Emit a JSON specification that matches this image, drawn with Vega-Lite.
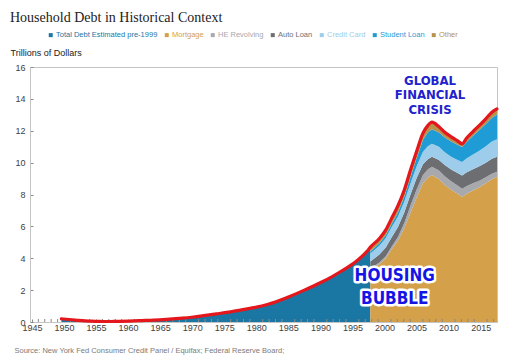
{
  "$schema": "https://vega.github.io/schema/vega-lite/v6.json",
  "width": 467,
  "height": 255,
  "autosize": {"type": "none"},
  "padding": {"left": 30, "top": 67, "right": 9, "bottom": 36},
  "background": "white",
  "config": {
    "view": {"stroke": "#c4c4c4", "strokeWidth": 1},
    "font": "Liberation Sans",
    "axis": {"labelOverlap": false, "labelFlush": false, "labelBound": false}
  },
  "title": {
    "text": "Household Debt in Historical Context",
    "anchor": "start",
    "font": "Liberation Serif",
    "fontSize": 14,
    "fontWeight": "normal",
    "color": "#222222",
    "offset": 6
  },
  "datasets": {
    "pre": [
      {"year": 1949.6, "series": "Total Debt Estimated pre-1999", "total": 0.2},
      {"year": 1951.3, "series": "Total Debt Estimated pre-1999", "total": 0.14},
      {"year": 1952.3, "series": "Total Debt Estimated pre-1999", "total": 0.1},
      {"year": 1953.3, "series": "Total Debt Estimated pre-1999", "total": 0.07},
      {"year": 1954.3, "series": "Total Debt Estimated pre-1999", "total": 0.05},
      {"year": 1955.2, "series": "Total Debt Estimated pre-1999", "total": 0.04},
      {"year": 1956.2, "series": "Total Debt Estimated pre-1999", "total": 0.03},
      {"year": 1957.2, "series": "Total Debt Estimated pre-1999", "total": 0.03},
      {"year": 1958.2, "series": "Total Debt Estimated pre-1999", "total": 0.04},
      {"year": 1960.1, "series": "Total Debt Estimated pre-1999", "total": 0.06},
      {"year": 1962.1, "series": "Total Debt Estimated pre-1999", "total": 0.09},
      {"year": 1964.0, "series": "Total Debt Estimated pre-1999", "total": 0.12},
      {"year": 1966.0, "series": "Total Debt Estimated pre-1999", "total": 0.17},
      {"year": 1967.9, "series": "Total Debt Estimated pre-1999", "total": 0.23},
      {"year": 1969.9, "series": "Total Debt Estimated pre-1999", "total": 0.3},
      {"year": 1971.8, "series": "Total Debt Estimated pre-1999", "total": 0.4},
      {"year": 1973.8, "series": "Total Debt Estimated pre-1999", "total": 0.51},
      {"year": 1975.7, "series": "Total Debt Estimated pre-1999", "total": 0.62},
      {"year": 1977.7, "series": "Total Debt Estimated pre-1999", "total": 0.76},
      {"year": 1979.6, "series": "Total Debt Estimated pre-1999", "total": 0.9},
      {"year": 1981.6, "series": "Total Debt Estimated pre-1999", "total": 1.08},
      {"year": 1983.6, "series": "Total Debt Estimated pre-1999", "total": 1.35},
      {"year": 1985.5, "series": "Total Debt Estimated pre-1999", "total": 1.65},
      {"year": 1987.5, "series": "Total Debt Estimated pre-1999", "total": 2.0},
      {"year": 1989.4, "series": "Total Debt Estimated pre-1999", "total": 2.35},
      {"year": 1991.4, "series": "Total Debt Estimated pre-1999", "total": 2.75},
      {"year": 1993.3, "series": "Total Debt Estimated pre-1999", "total": 3.2},
      {"year": 1995.3, "series": "Total Debt Estimated pre-1999", "total": 3.72},
      {"year": 1996.3, "series": "Total Debt Estimated pre-1999", "total": 4.05},
      {"year": 1997.2, "series": "Total Debt Estimated pre-1999", "total": 4.4},
      {"year": 1997.8, "series": "Total Debt Estimated pre-1999", "total": 4.7}
    ],
    "stack": [
      {"year": 1997.8, "series": "Mortgage", "o": 1, "value": 3.25},
      {"year": 1997.8, "series": "HE Revolving", "o": 2, "value": 0.1},
      {"year": 1997.8, "series": "Auto Loan", "o": 3, "value": 0.45},
      {"year": 1997.8, "series": "Credit Card", "o": 4, "value": 0.5},
      {"year": 1997.8, "series": "Student Loan", "o": 5, "value": 0.12},
      {"year": 1997.8, "series": "Other", "o": 6, "value": 0.28},
      {"year": 1999.2, "series": "Mortgage", "o": 1, "value": 3.62},
      {"year": 1999.2, "series": "HE Revolving", "o": 2, "value": 0.11},
      {"year": 1999.2, "series": "Auto Loan", "o": 3, "value": 0.5},
      {"year": 1999.2, "series": "Credit Card", "o": 4, "value": 0.56},
      {"year": 1999.2, "series": "Student Loan", "o": 5, "value": 0.15},
      {"year": 1999.2, "series": "Other", "o": 6, "value": 0.3},
      {"year": 2000.2, "series": "Mortgage", "o": 1, "value": 4.0},
      {"year": 2000.2, "series": "HE Revolving", "o": 2, "value": 0.13},
      {"year": 2000.2, "series": "Auto Loan", "o": 3, "value": 0.54},
      {"year": 2000.2, "series": "Credit Card", "o": 4, "value": 0.6},
      {"year": 2000.2, "series": "Student Loan", "o": 5, "value": 0.18},
      {"year": 2000.2, "series": "Other", "o": 6, "value": 0.33},
      {"year": 2001.1, "series": "Mortgage", "o": 1, "value": 4.55},
      {"year": 2001.1, "series": "HE Revolving", "o": 2, "value": 0.17},
      {"year": 2001.1, "series": "Auto Loan", "o": 3, "value": 0.58},
      {"year": 2001.1, "series": "Credit Card", "o": 4, "value": 0.64},
      {"year": 2001.1, "series": "Student Loan", "o": 5, "value": 0.21},
      {"year": 2001.1, "series": "Other", "o": 6, "value": 0.35},
      {"year": 2002.1, "series": "Mortgage", "o": 1, "value": 5.1},
      {"year": 2002.1, "series": "HE Revolving", "o": 2, "value": 0.24},
      {"year": 2002.1, "series": "Auto Loan", "o": 3, "value": 0.62},
      {"year": 2002.1, "series": "Credit Card", "o": 4, "value": 0.66},
      {"year": 2002.1, "series": "Student Loan", "o": 5, "value": 0.25},
      {"year": 2002.1, "series": "Other", "o": 6, "value": 0.43},
      {"year": 2003.1, "series": "Mortgage", "o": 1, "value": 5.9},
      {"year": 2003.1, "series": "HE Revolving", "o": 2, "value": 0.33},
      {"year": 2003.1, "series": "Auto Loan", "o": 3, "value": 0.66},
      {"year": 2003.1, "series": "Credit Card", "o": 4, "value": 0.68},
      {"year": 2003.1, "series": "Student Loan", "o": 5, "value": 0.3},
      {"year": 2003.1, "series": "Other", "o": 6, "value": 0.43},
      {"year": 2004.1, "series": "Mortgage", "o": 1, "value": 6.9},
      {"year": 2004.1, "series": "HE Revolving", "o": 2, "value": 0.45},
      {"year": 2004.1, "series": "Auto Loan", "o": 3, "value": 0.7},
      {"year": 2004.1, "series": "Credit Card", "o": 4, "value": 0.7},
      {"year": 2004.1, "series": "Student Loan", "o": 5, "value": 0.4},
      {"year": 2004.1, "series": "Other", "o": 6, "value": 0.45},
      {"year": 2005.0, "series": "Mortgage", "o": 1, "value": 7.8},
      {"year": 2005.0, "series": "HE Revolving", "o": 2, "value": 0.5},
      {"year": 2005.0, "series": "Auto Loan", "o": 3, "value": 0.72},
      {"year": 2005.0, "series": "Credit Card", "o": 4, "value": 0.74},
      {"year": 2005.0, "series": "Student Loan", "o": 5, "value": 0.52},
      {"year": 2005.0, "series": "Other", "o": 6, "value": 0.42},
      {"year": 2006.0, "series": "Mortgage", "o": 1, "value": 8.7},
      {"year": 2006.0, "series": "HE Revolving", "o": 2, "value": 0.52},
      {"year": 2006.0, "series": "Auto Loan", "o": 3, "value": 0.68},
      {"year": 2006.0, "series": "Credit Card", "o": 4, "value": 0.78},
      {"year": 2006.0, "series": "Student Loan", "o": 5, "value": 0.75},
      {"year": 2006.0, "series": "Other", "o": 6, "value": 0.42},
      {"year": 2006.75, "series": "Mortgage", "o": 1, "value": 9.05},
      {"year": 2006.75, "series": "HE Revolving", "o": 2, "value": 0.52},
      {"year": 2006.75, "series": "Auto Loan", "o": 3, "value": 0.64},
      {"year": 2006.75, "series": "Credit Card", "o": 4, "value": 0.82},
      {"year": 2006.75, "series": "Student Loan", "o": 5, "value": 0.86},
      {"year": 2006.75, "series": "Other", "o": 6, "value": 0.43},
      {"year": 2007.4, "series": "Mortgage", "o": 1, "value": 9.22},
      {"year": 2007.4, "series": "HE Revolving", "o": 2, "value": 0.52},
      {"year": 2007.4, "series": "Auto Loan", "o": 3, "value": 0.63},
      {"year": 2007.4, "series": "Credit Card", "o": 4, "value": 0.82},
      {"year": 2007.4, "series": "Student Loan", "o": 5, "value": 0.9},
      {"year": 2007.4, "series": "Other", "o": 6, "value": 0.45},
      {"year": 2008.5, "series": "Mortgage", "o": 1, "value": 8.95},
      {"year": 2008.5, "series": "HE Revolving", "o": 2, "value": 0.56},
      {"year": 2008.5, "series": "Auto Loan", "o": 3, "value": 0.66},
      {"year": 2008.5, "series": "Credit Card", "o": 4, "value": 0.82},
      {"year": 2008.5, "series": "Student Loan", "o": 5, "value": 0.9},
      {"year": 2008.5, "series": "Other", "o": 6, "value": 0.36},
      {"year": 2009.4, "series": "Mortgage", "o": 1, "value": 8.6},
      {"year": 2009.4, "series": "HE Revolving", "o": 2, "value": 0.55},
      {"year": 2009.4, "series": "Auto Loan", "o": 3, "value": 0.7},
      {"year": 2009.4, "series": "Credit Card", "o": 4, "value": 0.8},
      {"year": 2009.4, "series": "Student Loan", "o": 5, "value": 0.92},
      {"year": 2009.4, "series": "Other", "o": 6, "value": 0.33},
      {"year": 2010.4, "series": "Mortgage", "o": 1, "value": 8.3},
      {"year": 2010.4, "series": "HE Revolving", "o": 2, "value": 0.53},
      {"year": 2010.4, "series": "Auto Loan", "o": 3, "value": 0.74},
      {"year": 2010.4, "series": "Credit Card", "o": 4, "value": 0.8},
      {"year": 2010.4, "series": "Student Loan", "o": 5, "value": 0.95},
      {"year": 2010.4, "series": "Other", "o": 6, "value": 0.3},
      {"year": 2011.4, "series": "Mortgage", "o": 1, "value": 8.05},
      {"year": 2011.4, "series": "HE Revolving", "o": 2, "value": 0.51},
      {"year": 2011.4, "series": "Auto Loan", "o": 3, "value": 0.79},
      {"year": 2011.4, "series": "Credit Card", "o": 4, "value": 0.82},
      {"year": 2011.4, "series": "Student Loan", "o": 5, "value": 0.95},
      {"year": 2011.4, "series": "Other", "o": 6, "value": 0.25},
      {"year": 2012.1, "series": "Mortgage", "o": 1, "value": 7.86},
      {"year": 2012.1, "series": "HE Revolving", "o": 2, "value": 0.5},
      {"year": 2012.1, "series": "Auto Loan", "o": 3, "value": 0.84},
      {"year": 2012.1, "series": "Credit Card", "o": 4, "value": 0.84},
      {"year": 2012.1, "series": "Student Loan", "o": 5, "value": 0.94},
      {"year": 2012.1, "series": "Other", "o": 6, "value": 0.2},
      {"year": 2012.85, "series": "Mortgage", "o": 1, "value": 8.05},
      {"year": 2012.85, "series": "HE Revolving", "o": 2, "value": 0.48},
      {"year": 2012.85, "series": "Auto Loan", "o": 3, "value": 0.86},
      {"year": 2012.85, "series": "Credit Card", "o": 4, "value": 0.88},
      {"year": 2012.85, "series": "Student Loan", "o": 5, "value": 1.04},
      {"year": 2012.85, "series": "Other", "o": 6, "value": 0.25},
      {"year": 2013.8, "series": "Mortgage", "o": 1, "value": 8.25},
      {"year": 2013.8, "series": "HE Revolving", "o": 2, "value": 0.45},
      {"year": 2013.8, "series": "Auto Loan", "o": 3, "value": 0.88},
      {"year": 2013.8, "series": "Credit Card", "o": 4, "value": 0.93},
      {"year": 2013.8, "series": "Student Loan", "o": 5, "value": 1.17},
      {"year": 2013.8, "series": "Other", "o": 6, "value": 0.27},
      {"year": 2014.8, "series": "Mortgage", "o": 1, "value": 8.45},
      {"year": 2014.8, "series": "HE Revolving", "o": 2, "value": 0.42},
      {"year": 2014.8, "series": "Auto Loan", "o": 3, "value": 0.9},
      {"year": 2014.8, "series": "Credit Card", "o": 4, "value": 0.98},
      {"year": 2014.8, "series": "Student Loan", "o": 5, "value": 1.29},
      {"year": 2014.8, "series": "Other", "o": 6, "value": 0.3},
      {"year": 2015.8, "series": "Mortgage", "o": 1, "value": 8.7},
      {"year": 2015.8, "series": "HE Revolving", "o": 2, "value": 0.38},
      {"year": 2015.8, "series": "Auto Loan", "o": 3, "value": 0.92},
      {"year": 2015.8, "series": "Credit Card", "o": 4, "value": 1.03},
      {"year": 2015.8, "series": "Student Loan", "o": 5, "value": 1.4},
      {"year": 2015.8, "series": "Other", "o": 6, "value": 0.32},
      {"year": 2016.75, "series": "Mortgage", "o": 1, "value": 8.95},
      {"year": 2016.75, "series": "HE Revolving", "o": 2, "value": 0.35},
      {"year": 2016.75, "series": "Auto Loan", "o": 3, "value": 0.94},
      {"year": 2016.75, "series": "Credit Card", "o": 4, "value": 1.08},
      {"year": 2016.75, "series": "Student Loan", "o": 5, "value": 1.5},
      {"year": 2016.75, "series": "Other", "o": 6, "value": 0.34},
      {"year": 2017.55, "series": "Mortgage", "o": 1, "value": 9.1},
      {"year": 2017.55, "series": "HE Revolving", "o": 2, "value": 0.32},
      {"year": 2017.55, "series": "Auto Loan", "o": 3, "value": 0.95},
      {"year": 2017.55, "series": "Credit Card", "o": 4, "value": 1.1},
      {"year": 2017.55, "series": "Student Loan", "o": 5, "value": 1.55},
      {"year": 2017.55, "series": "Other", "o": 6, "value": 0.35}
    ],
    "line": [
      {"year": 1949.6, "total": 0.2},
      {"year": 1951.3, "total": 0.14},
      {"year": 1952.3, "total": 0.1},
      {"year": 1953.3, "total": 0.07},
      {"year": 1954.3, "total": 0.05},
      {"year": 1955.2, "total": 0.04},
      {"year": 1956.2, "total": 0.03},
      {"year": 1957.2, "total": 0.03},
      {"year": 1958.2, "total": 0.04},
      {"year": 1960.1, "total": 0.06},
      {"year": 1962.1, "total": 0.09},
      {"year": 1964.0, "total": 0.12},
      {"year": 1966.0, "total": 0.17},
      {"year": 1967.9, "total": 0.23},
      {"year": 1969.9, "total": 0.3},
      {"year": 1971.8, "total": 0.4},
      {"year": 1973.8, "total": 0.51},
      {"year": 1975.7, "total": 0.62},
      {"year": 1977.7, "total": 0.76},
      {"year": 1979.6, "total": 0.9},
      {"year": 1981.6, "total": 1.08},
      {"year": 1983.6, "total": 1.35},
      {"year": 1985.5, "total": 1.65},
      {"year": 1987.5, "total": 2.0},
      {"year": 1989.4, "total": 2.35},
      {"year": 1991.4, "total": 2.75},
      {"year": 1993.3, "total": 3.2},
      {"year": 1995.3, "total": 3.72},
      {"year": 1996.3, "total": 4.05},
      {"year": 1997.2, "total": 4.4},
      {"year": 1997.8, "total": 4.7},
      {"year": 1999.2, "total": 5.24},
      {"year": 2000.2, "total": 5.78},
      {"year": 2001.1, "total": 6.5},
      {"year": 2002.1, "total": 7.3},
      {"year": 2003.1, "total": 8.3},
      {"year": 2004.1, "total": 9.6},
      {"year": 2005.0, "total": 10.7},
      {"year": 2006.0, "total": 11.85},
      {"year": 2006.75, "total": 12.32},
      {"year": 2007.4, "total": 12.54},
      {"year": 2008.5, "total": 12.25},
      {"year": 2009.4, "total": 11.9},
      {"year": 2010.4, "total": 11.62},
      {"year": 2011.4, "total": 11.37},
      {"year": 2012.1, "total": 11.18},
      {"year": 2012.85, "total": 11.56},
      {"year": 2013.8, "total": 11.95},
      {"year": 2014.8, "total": 12.34},
      {"year": 2015.8, "total": 12.75},
      {"year": 2016.75, "total": 13.16},
      {"year": 2017.55, "total": 13.37}
    ],
    "ticks": [
      {"year": 1946}, {"year": 1947}, {"year": 1948}, {"year": 1949}, {"year": 1951}, {"year": 1952}, {"year": 1953}, {"year": 1954},
      {"year": 1956}, {"year": 1957}, {"year": 1958}, {"year": 1959}, {"year": 1961}, {"year": 1962}, {"year": 1963}, {"year": 1964},
      {"year": 1966}, {"year": 1967}, {"year": 1968}, {"year": 1969}, {"year": 1971}, {"year": 1972}, {"year": 1973}, {"year": 1974},
      {"year": 1976}, {"year": 1977}, {"year": 1978}, {"year": 1979}, {"year": 1981}, {"year": 1982}, {"year": 1983}, {"year": 1984},
      {"year": 1986}, {"year": 1987}, {"year": 1988}, {"year": 1989}, {"year": 1991}, {"year": 1992}, {"year": 1993}, {"year": 1994},
      {"year": 1996}, {"year": 1997}, {"year": 1998}, {"year": 1999}, {"year": 2001}, {"year": 2002}, {"year": 2003}, {"year": 2004},
      {"year": 2006}, {"year": 2007}, {"year": 2008}, {"year": 2009}, {"year": 2011}, {"year": 2012}, {"year": 2013}, {"year": 2014},
      {"year": 2016}, {"year": 2017}
    ],
    "gfc": [
      {"year": 2007.1, "value": 15.14, "label": "GLOBAL"},
      {"year": 2007.1, "value": 14.24, "label": "FINANCIAL"},
      {"year": 2007.1, "value": 13.3, "label": "CRISIS"}
    ],
    "bubble": [
      {"year": 2001.6, "value": 2.9, "label": "HOUSING"},
      {"year": 2001.6, "value": 1.44, "label": "BUBBLE"}
    ]
  },
  "layer": [
    {
      "data": {"name": "pre"},
      "mark": {"type": "area", "interpolate": "monotone"},
      "encoding": {
        "x": {
          "field": "year", "type": "quantitative",
          "scale": {"domain": [1944.7, 2017.55], "nice": false, "zero": false},
          "axis": {
            "values": [1945,1950,1955,1960,1965,1970,1975,1980,1985,1990,1995,2000,2005,2010,2015],
            "tickCount": 100,
            "format": "d",
            "labelOverlap": false,
            "labelFontSize": 9,
            "labelColor": "#404040",
            "labelPadding": 4,
            "tickSize": -3,
            "tickColor": "#8a8a8a",
            "domainColor": "#c4c4c4",
            "grid": false,
            "title": "Source:  New York Fed Consumer Credit Panel / Equifax; Federal Reserve Board;",
            "titleFontSize": 7.5,
            "titleFontWeight": "normal",
            "titleColor": "#7a7a7a",
            "titleAlign": "left",
            "titleAnchor": null,
            "titleBaseline": "alphabetic",
            "titleX": -16,
            "titleY": 30.5
          }
        },
        "y": {
          "field": "total", "type": "quantitative",
          "scale": {"domain": [0, 16], "nice": false},
          "axis": {
            "values": [0,2,4,6,8,10,12,14,16],
            "tickCount": 100,
            "format": "d",
            "labelOverlap": false,
            "labelFontSize": 9,
            "labelColor": "#404040",
            "labelPadding": 8,
            "tickSize": -3,
            "tickColor": "#8a8a8a",
            "domainColor": "#c4c4c4",
            "grid": false,
            "title": "Trillions of Dollars",
            "titleAngle": 0,
            "titleFontSize": 9,
            "titleFontWeight": "normal",
            "titleColor": "#222222",
            "titleAlign": "left",
            "titleAnchor": null,
            "titleBaseline": "alphabetic",
            "titleX": -20,
            "titleY": -11.5
          }
        },
        "color": {
          "field": "series", "type": "nominal",
          "scale": {
            "domain": ["Total Debt Estimated pre-1999","Mortgage","HE Revolving","Auto Loan","Credit Card","Student Loan","Other"],
            "range": ["#1a77a3","#d4a04a","#a8a9ad","#6d6e72","#9dcdea","#1f9cd6","#b8924a"]
          },
          "legend": {
            "orient": "none",
            "legendX": 17,
            "legendY": -36,
            "direction": "horizontal",
            "columns": 7,
            "title": null,
            "symbolType": "square",
            "symbolSize": 16,
            "symbolStrokeWidth": 0,
            "labelFontSize": 7.5,
            "labelOffset": 1.5,
            "columnPadding": 5,
            "padding": 0,
            "labelLimit": 300,
            "labelColor": {"expr": "scale('color', datum.value)"}
          }
        }
      }
    },
    {
      "data": {"name": "stack"},
      "mark": {"type": "area", "interpolate": "linear"},
      "encoding": {
        "x": {"field": "year", "type": "quantitative"},
        "y": {"field": "value", "type": "quantitative", "stack": "zero"},
        "color": {"field": "series", "type": "nominal"},
        "order": {"field": "o", "type": "quantitative", "sort": "ascending"}
      }
    },
    {
      "data": {"name": "ticks"},
      "mark": {"type": "rule", "color": "#8a8a8a", "strokeWidth": 1},
      "encoding": {
        "x": {"field": "year", "type": "quantitative"},
        "y": {"datum": 0},
        "y2": {"datum": 0.19}
      }
    },
    {
      "data": {"name": "line"},
      "mark": {"type": "line", "interpolate": "monotone", "color": "#e3171c", "strokeWidth": 3.2, "strokeCap": "round", "strokeJoin": "round"},
      "encoding": {
        "x": {"field": "year", "type": "quantitative"},
        "y": {"field": "total", "type": "quantitative"}
      }
    },
    {
      "data": {"name": "gfc"},
      "mark": {"type": "text", "font": "DejaVu Sans Condensed, DejaVu Sans, sans-serif", "fontWeight": "bold", "fontSize": 13, "color": "#2222cc", "align": "center", "baseline": "middle"},
      "encoding": {
        "x": {"field": "year", "type": "quantitative"},
        "y": {"field": "value", "type": "quantitative"},
        "text": {"field": "label"}
      }
    },
    {
      "data": {"name": "bubble"},
      "mark": {"type": "text", "font": "DejaVu Sans Condensed, DejaVu Sans, sans-serif", "fontWeight": "bold", "fontSize": 17, "color": "white", "stroke": "white", "strokeWidth": 5, "strokeJoin": "round", "align": "center", "baseline": "middle"},
      "encoding": {
        "x": {"field": "year", "type": "quantitative"},
        "y": {"field": "value", "type": "quantitative"},
        "text": {"field": "label"}
      }
    },
    {
      "data": {"name": "bubble"},
      "mark": {"type": "text", "font": "DejaVu Sans Condensed, DejaVu Sans, sans-serif", "fontWeight": "bold", "fontSize": 17, "color": "#1414e6", "align": "center", "baseline": "middle"},
      "encoding": {
        "x": {"field": "year", "type": "quantitative"},
        "y": {"field": "value", "type": "quantitative"},
        "text": {"field": "label"}
      }
    }
  ]
}
